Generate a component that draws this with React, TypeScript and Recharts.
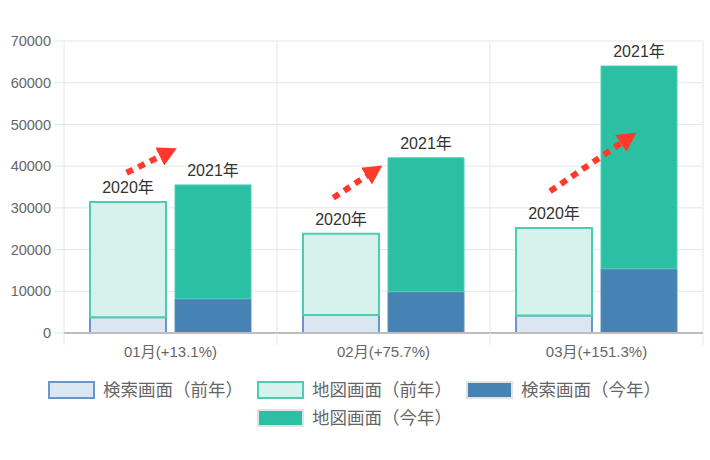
import React from "react"
import {
  ComposedChart,
  Bar,
  Scatter,
  XAxis,
  YAxis,
  CartesianGrid,
  Legend,
  LabelList,
} from "recharts"

const categories = ["01月(+13.1%)", "02月(+75.7%)", "03月(+151.3%)"]
const searchPrev = [3800, 4300, 4200]
const mapPrev = [27600, 19500, 21000]
const searchCurr = [8200, 9900, 15400]
const mapCurr = [27300, 32100, 48600]
const yTicks = [0, 10000, 20000, 30000, 40000, 50000, 60000, 70000]
const yearLabels = ["2020年", "2021年"]
const seriesNames = ["検索画面（前年）", "地図画面（前年）", "検索画面（今年）", "地図画面（今年）"]

// arrow start/end: x in category units (0..3), y in axis value
const arrow1 = [{ x: 0.294, y: 38400 }, { x: 0.454, y: 42400 }]
const arrow2 = [{ x: 1.264, y: 32400 }, { x: 1.424, y: 37760 }]
const arrow3 = [{ x: 2.282, y: 33990 }, { x: 2.618, y: 45600 }]

const W = 710
const H = 460
const MARGIN = { top: 41, right: 7, bottom: 30, left: 0 }
const Y_WIDTH = 64
const BAND = (W - MARGIN.left - MARGIN.right - Y_WIDTH) / categories.length
const GRID = "#e6e6e6"
const ARROW = "#ff3a2a"
const FONT = '"Liberation Sans", "Noto Sans CJK JP", sans-serif'

const styles = [
  { fill: "#dce6f1", stroke: "#6a96c9", w: 2 },
  { fill: "#d7f2ec", stroke: "#4ccdb2", w: 2 },
  { fill: "#4682b4", stroke: "#5b90bd", w: 1 },
  { fill: "#2bbfa4", stroke: "#4fd0b8", w: 1 },
]

const data = categories.map((name, i) => ({
  name,
  searchPrev: searchPrev[i],
  mapPrev: mapPrev[i],
  searchCurr: searchCurr[i],
  mapCurr: mapCurr[i],
}))

// eslint-disable-next-line @typescript-eslint/no-explicit-any
function CatTick({ x, y, payload, index }: any) {
  const last = index === categories.length - 1
  return (
    <g>
      <line x1={x - BAND / 2} x2={x - BAND / 2} y1={y} y2={y + 12} stroke={GRID} />
      {last && <line x1={x + BAND / 2} x2={x + BAND / 2} y1={y} y2={y + 12} stroke={GRID} />}
      <text x={x} y={y + 24} textAnchor="middle" fill="#666" fontSize={15}>
        {payload.value}
      </text>
    </g>
  )
}

function yearLabel(text: string) {
  // eslint-disable-next-line @typescript-eslint/no-explicit-any
  return (props: any) => {
    const { x, y, width } = props
    return (
      <text x={x + width / 2} y={y - 9} textAnchor="middle" fill="#333" fontSize={16}>
        {text}
      </text>
    )
  }
}

function NoDot() {
  return <g />
}

function LegendBox() {
  return (
    <div
      style={{
        display: "flex",
        flexWrap: "wrap",
        justifyContent: "center",
        rowGap: 10,
        maxWidth: 650,
        margin: "0 auto",
        padding: "3px 0 3px 6px",
        fontFamily: FONT,
      }}
    >
      {seriesNames.map((n, i) => (
        <div key={n} style={{ display: "flex", alignItems: "center", margin: "0 7px", height: 18 }}>
          <span
            style={{
              display: "inline-block",
              width: 47,
              height: 18,
              boxSizing: "border-box",
              background: styles[i].fill,
              border: `2px solid ${i < 2 ? styles[i].stroke : "#e2e2e2"}`,
              marginRight: 8,
            }}
          />
          <span style={{ fontSize: 17.5, lineHeight: "18px", color: "#666", whiteSpace: "nowrap" }}>{n}</span>
        </div>
      ))}
    </div>
  )
}

export default function App() {
  const arrowLine = {
    stroke: ARROW,
    strokeWidth: 6,
    strokeDasharray: "7 6",
    markerEnd: "url(#arrowHead)",
  }
  return (
    <div style={{ position: "absolute", left: 0, top: 0, fontFamily: FONT }}>
      <ComposedChart
        width={W}
        height={H}
        data={data}
        margin={MARGIN}
        barCategoryGap={26}
        barGap={9}
      >
        <defs>
          <marker
            id="arrowHead"
            markerUnits="userSpaceOnUse"
            markerWidth={20}
            markerHeight={20}
            viewBox="0 0 20 20"
            refX={1}
            refY={10}
            orient="auto"
          >
            <path d="M0,0 L19,10 L0,20 z" fill={ARROW} />
          </marker>
        </defs>
        <CartesianGrid
          stroke={GRID}
          xAxisId="cat"
          verticalCoordinatesGenerator={({ offset }: any) => // eslint-disable-line @typescript-eslint/no-explicit-any
            [0, 1, 2, 3].map((i) => offset.left + (offset.width * i) / categories.length)
          }
        />
        <XAxis
          xAxisId="cat"
          dataKey="name"
          height={45}
          tickSize={0}
          tickMargin={0}
          tickLine={false}
          axisLine={{ stroke: "#bdbdbd", strokeWidth: 2 }}
          tick={<CatTick />}
          interval={0}
        />
        <XAxis xAxisId="pos" type="number" dataKey="x" domain={[0, 3]} hide />
        <YAxis
          width={Y_WIDTH}
          domain={[0, 70000]}
          ticks={yTicks}
          axisLine={false}
          tickLine={{ stroke: GRID }}
          tickSize={10}
          tickMargin={3}
          tick={{ fill: "#666", fontSize: 14.5 }}
        />
        <YAxis yAxisId="pos" dataKey="y" domain={[0, 70000]} hide />
        <Legend verticalAlign="bottom" content={<LegendBox />} />
        <Bar xAxisId="cat" dataKey="searchPrev" stackId="prev" fill={styles[0].fill} stroke={styles[0].stroke} strokeWidth={styles[0].w} isAnimationActive={false} />
        <Bar xAxisId="cat" dataKey="mapPrev" stackId="prev" fill={styles[1].fill} stroke={styles[1].stroke} strokeWidth={styles[1].w} isAnimationActive={false}>
          <LabelList dataKey="mapPrev" content={yearLabel(yearLabels[0])} />
        </Bar>
        <Bar xAxisId="cat" dataKey="searchCurr" stackId="curr" fill={styles[2].fill} stroke={styles[2].stroke} strokeWidth={styles[2].w} isAnimationActive={false} />
        <Bar xAxisId="cat" dataKey="mapCurr" stackId="curr" fill={styles[3].fill} stroke={styles[3].stroke} strokeWidth={styles[3].w} isAnimationActive={false}>
          <LabelList dataKey="mapCurr" content={yearLabel(yearLabels[1])} />
        </Bar>
        {[arrow1, arrow2, arrow3].map((a, i) => (
          <Scatter
            key={i}
            xAxisId="pos"
            yAxisId="pos"
            data={a}
            line={arrowLine}
            lineType="joint"
            shape={<NoDot />}
            fill={ARROW}
            legendType="none"
            isAnimationActive={false}
          />
        ))}
      </ComposedChart>
    </div>
  )
}
